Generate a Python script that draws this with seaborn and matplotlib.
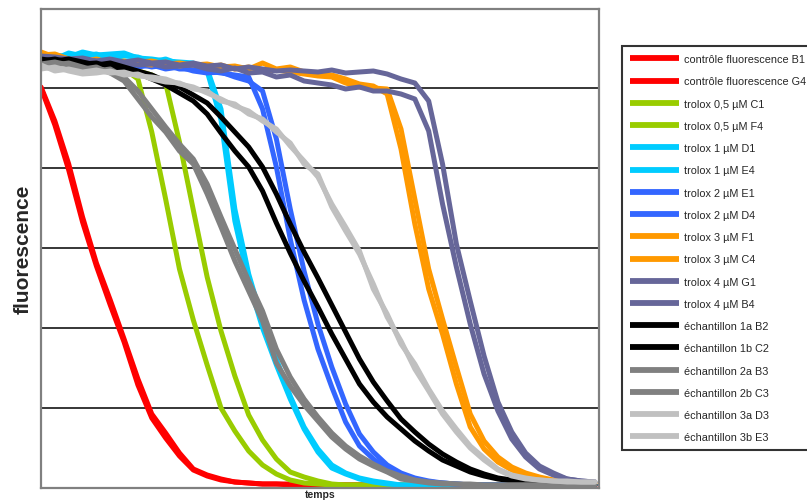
import matplotlib
matplotlib.use("Agg")
import matplotlib.pyplot as plt
from matplotlib.lines import Line2D
import pandas as pd
import seaborn as sns

# time index (arbitrary units, no tick labels in the original)
temps = list(range(41))

# fluorescence readings (arbitrary units, gridlines every 80)
controle_B1 = [401, 367, 324, 271, 225, 188, 149, 109, 74, 55, 35, 19, 13, 9, 6, 5, 4, 4, 4, 3,
               3, 3, 3, 3, 3, 3, 3, 2, 2, 2, 2, 2, 2, 2, 2, 2, 2, 2, 2, 2, 2]
controle_G4 = [400, 363, 318, 266, 222, 183, 146, 103, 70, 50, 32, 18, 12, 8, 6, 5, 4, 4, 3, 3,
               3, 3, 3, 3, 3, 3, 2, 2, 2, 2, 2, 2, 2, 2, 2, 2, 2, 2, 2, 2, 2]
trolox05_C1 = [431, 429, 426, 428, 424, 423, 419, 409, 356, 289, 219, 168, 123, 80, 57, 37, 23, 14, 8, 5,
               4, 3, 3, 3, 3, 3, 3, 3, 3, 3, 3, 3, 3, 3, 3, 3, 3, 3, 3, 3, 3]
trolox05_F4 = [429, 431, 427, 425, 426, 422, 419, 417, 413, 405, 346, 278, 211, 157, 112, 73, 48, 29, 16, 11,
               7, 4, 3, 3, 3, 3, 3, 3, 3, 3, 3, 3, 3, 3, 3, 3, 3, 3, 3, 3, 3]
trolox1_D1 = [429, 433, 431, 436, 433, 434, 435, 430, 429, 427, 426, 425, 417, 368, 267, 206, 160, 123, 89, 59,
              36, 20, 14, 9, 6, 4, 3, 3, 3, 3, 3, 3, 3, 3, 3, 3, 3, 3, 3, 3, 3]
trolox1_E4 = [432, 429, 435, 432, 434, 429, 432, 431, 426, 429, 424, 423, 419, 379, 279, 214, 167, 129, 92, 61,
              39, 23, 15, 10, 7, 5, 3, 3, 3, 3, 3, 3, 3, 3, 3, 3, 3, 3, 3, 3, 3]
trolox2_E1 = [427, 429, 427, 429, 425, 427, 423, 424, 421, 423, 419, 419, 417, 415, 413, 411, 379, 321, 249, 188,
              139, 101, 66, 42, 29, 19, 12, 8, 6, 5, 4, 3, 3, 3, 3, 3, 3, 3, 3, 3, 3]
trolox2_D4 = [425, 427, 429, 426, 427, 423, 425, 421, 423, 419, 421, 417, 415, 416, 411, 407, 397, 349, 279, 217,
              164, 121, 84, 54, 36, 23, 15, 10, 7, 5, 4, 3, 3, 3, 3, 3, 3, 3, 3, 3, 3]
trolox3_F1 = [436, 431, 427, 429, 427, 428, 425, 426, 427, 424, 425, 423, 424, 421, 422, 419, 425, 419, 421, 416,
              415, 413, 409, 404, 402, 394, 339, 264, 199, 154, 104, 61, 39, 26, 18, 13, 10, 7, 6, 5, 5]
trolox3_C4 = [433, 434, 429, 426, 429, 425, 427, 424, 423, 426, 422, 424, 421, 423, 419, 421, 417, 418, 416, 414,
              412, 411, 405, 401, 400, 399, 359, 289, 219, 169, 121, 74, 47, 31, 21, 15, 11, 8, 6, 5, 5]
trolox4_G1 = [432, 431, 429, 430, 427, 429, 426, 428, 425, 426, 423, 425, 422, 423, 419, 421, 419, 417, 418, 417,
              416, 418, 415, 416, 417, 414, 409, 405, 387, 324, 244, 187, 132, 86, 56, 35, 22, 15, 9, 7, 6]
trolox4_B4 = [429, 427, 428, 426, 427, 424, 425, 423, 424, 421, 422, 423, 419, 417, 420, 415, 416, 411, 413, 407,
              405, 403, 399, 401, 397, 397, 394, 389, 357, 284, 221, 164, 114, 77, 49, 31, 19, 13, 9, 7, 6]
echant_1a_B2 = [427, 429, 426, 424, 425, 421, 418, 415, 409, 403, 395, 387, 374, 355, 337, 321, 297, 265, 235, 207,
                181, 154, 129, 104, 86, 71, 59, 47, 37, 28, 22, 16, 12, 9, 7, 5, 4, 4, 4, 3, 3]
echant_1b_C2 = [429, 427, 429, 426, 423, 425, 421, 417, 413, 407, 401, 393, 385, 371, 356, 341, 321, 294, 264, 236,
                210, 183, 156, 129, 106, 87, 69, 56, 44, 34, 26, 19, 14, 10, 8, 6, 5, 4, 4, 3, 3]
echant_2a_B3 = [424, 426, 423, 419, 421, 415, 407, 389, 371, 356, 337, 324, 294, 261, 227, 197, 167, 125, 102, 83,
                67, 51, 39, 29, 22, 16, 9, 7, 5, 4, 4, 3, 3, 3, 3, 3, 3, 3, 3, 3, 3]
echant_2b_C3 = [421, 423, 425, 421, 417, 419, 411, 397, 379, 361, 344, 329, 304, 271, 239, 207, 177, 139, 111, 89,
                71, 55, 42, 32, 24, 17, 12, 8, 6, 5, 4, 4, 3, 3, 3, 3, 3, 3, 3, 3, 3]
echant_3a_D3 = [423, 417, 419, 416, 418, 415, 416, 412, 411, 409, 404, 401, 395, 389, 382, 377, 367, 359, 342, 327,
                311, 284, 261, 237, 199, 174, 144, 124, 99, 77, 59, 42, 30, 19, 13, 10, 8, 7, 7, 6, 6]
echant_3b_E3 = [419, 421, 417, 414, 415, 417, 413, 414, 409, 406, 405, 399, 397, 387, 384, 374, 369, 356, 345, 324,
                314, 281, 257, 234, 204, 171, 147, 119, 97, 74, 56, 40, 28, 18, 12, 9, 8, 7, 6, 6, 6]

series_labels = [
    "contrôle fluorescence B1", "contrôle fluorescence G4",
    "trolox 0,5 µM C1", "trolox 0,5 µM F4",
    "trolox 1 µM D1", "trolox 1 µM E4",
    "trolox 2 µM E1", "trolox 2 µM D4",
    "trolox 3 µM F1", "trolox 3 µM C4",
    "trolox 4 µM G1", "trolox 4 µM B4",
    "échantillon 1a B2", "échantillon 1b C2",
    "échantillon 2a B3", "échantillon 2b C3",
    "échantillon 3a D3", "échantillon 3b E3",
]
series_values = [
    controle_B1, controle_G4, trolox05_C1, trolox05_F4, trolox1_D1, trolox1_E4,
    trolox2_E1, trolox2_D4, trolox3_F1, trolox3_C4, trolox4_G1, trolox4_B4,
    echant_1a_B2, echant_1b_C2, echant_2a_B3, echant_2b_C3, echant_3a_D3, echant_3b_E3,
]
series_colors = [
    "#FF0000", "#FF0000", "#99CC00", "#99CC00", "#00CCFF", "#00CCFF",
    "#3366FF", "#3366FF", "#FF9900", "#FF9900", "#666699", "#666699",
    "#000000", "#000000", "#808080", "#808080", "#C0C0C0", "#C0C0C0",
]
grid_levels = [80, 160, 240, 320, 400]

sns.set_theme(style="white")
plt.rcParams["font.family"] = ["Liberation Sans", "DejaVu Sans"]

df = pd.concat(
    [pd.DataFrame({"temps": temps, "fluorescence": v, "série": lab})
     for lab, v in zip(series_labels, series_values)],
    ignore_index=True,
)

fig = plt.figure(figsize=(8.07, 5.02), dpi=100)
ax = fig.add_axes([41 / 807, 13 / 502, 558 / 807, 479 / 502])

sns.lineplot(
    data=df, x="temps", y="fluorescence", hue="série",
    hue_order=series_labels, palette=dict(zip(series_labels, series_colors)),
    linewidth=3.6, legend=False, ax=ax,
)
for ln in ax.get_lines():
    ln.set_solid_joinstyle("round")
    ln.set_solid_capstyle("round")

ax.set_xlim(0, 40.3)
ax.set_ylim(0, 479)
ax.set_xticks([])
ax.set_yticks(grid_levels)
ax.tick_params(axis="both", length=0, labelleft=False, labelbottom=False)
ax.set_axisbelow(True)
ax.yaxis.grid(True, color="black", linewidth=1.1)
ax.xaxis.grid(False)
for sp in ax.spines.values():
    sp.set_color("#808080")
    sp.set_linewidth(1.6)

ax.set_ylabel("fluorescence", fontsize=15, fontweight="bold", labelpad=6)
ax.set_xlabel("temps", fontsize=7.5, fontweight="bold", labelpad=1)

handles = [Line2D([0], [0], color=c, linewidth=4.2, solid_capstyle="butt") for c in series_colors]
leg = fig.legend(
    handles, series_labels, loc="upper left",
    bbox_to_anchor=(622 / 807, 1 - 47 / 502), bbox_transform=fig.transFigure,
    frameon=True, fancybox=False, edgecolor="black", fontsize=7.8,
    labelspacing=1.13, handlelength=4.5, handletextpad=0.45,
    borderpad=0.75, borderaxespad=0,
)
leg.get_frame().set_linewidth(1.5)

fig.savefig("out.png", dpi=100)
